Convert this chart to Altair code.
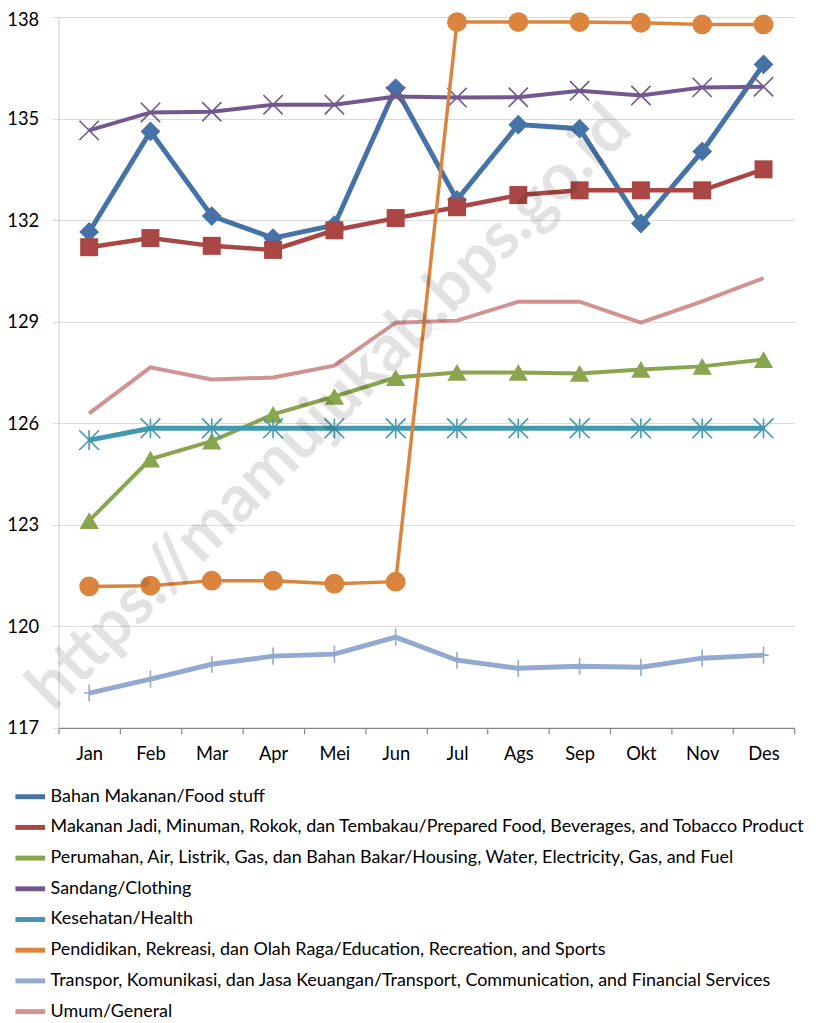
import altair as alt
import pandas as pd

months = ["Jan", "Feb", "Mar", "Apr", "Mei", "Jun", "Jul", "Ags", "Sep", "Okt", "Nov", "Des"]

series_names = [
    "Bahan Makanan/Food stuff",
    "Makanan Jadi, Minuman, Rokok, dan Tembakau/Prepared Food, Beverages, and Tobacco Product",
    "Perumahan, Air, Listrik, Gas, dan Bahan Bakar/Housing, Water, Electricity, Gas, and Fuel",
    "Sandang/Clothing",
    "Kesehatan/Health",
    "Pendidikan, Rekreasi, dan Olah Raga/Education, Recreation, and Sports",
    "Transpor, Komunikasi, dan Jasa Keuangan/Transport, Communication, and Financial Services",
    "Umum/General",
]

food = [131.65, 134.62, 132.12, 131.47, 131.85, 135.90, 132.60, 134.82, 134.70, 131.90, 134.03, 136.60]
prepared = [131.20, 131.47, 131.24, 131.12, 131.70, 132.06, 132.38, 132.74, 132.88, 132.88, 132.88, 133.50]
housing = [123.12, 124.94, 125.47, 126.26, 126.79, 127.35, 127.50, 127.50, 127.47, 127.59, 127.68, 127.88]
clothing = [134.65, 135.18, 135.20, 135.41, 135.41, 135.65, 135.62, 135.63, 135.82, 135.68, 135.92, 135.94]
health = [125.50, 125.85, 125.85, 125.85, 125.85, 125.85, 125.85, 125.85, 125.85, 125.85, 125.85, 125.85]
education = [121.18, 121.20, 121.35, 121.35, 121.26, 121.32, 137.85, 137.85, 137.85, 137.83, 137.78, 137.78]
transport = [118.03, 118.44, 118.88, 119.12, 119.18, 119.68, 119.00, 118.76, 118.82, 118.79, 119.06, 119.15]
general = [126.29, 127.65, 127.29, 127.35, 127.70, 128.97, 129.03, 129.59, 129.59, 128.97, 129.60, 130.29]

y_ticks = [117, 120, 123, 126, 129, 132, 135, 138]
watermark = "https://mamujukab.bps.go.id"

colors = ["#4572A7", "#AA4643", "#89A54E", "#71588F", "#4198AF", "#DB843D", "#93A9CF", "#D19392"]

X_PATH = "M-1,-1L1,1M-1,1L1,-1"
AST_PATH = "M-1,-1L1,1M-1,1L1,-1M0,-1L0,1"
PLUS_PATH = "M-0.6,0L0.6,0M0,-1L0,1"

# style per series: (line width, marker shape, marker size, filled)
styles = [
    (5, "diamond", 400, True),
    (4.5, "square", 330, True),
    (4, "triangle-up", 380, True),
    (4, X_PATH, 380, False),
    (5, AST_PATH, 400, False),
    (3.5, "circle", 400, True),
    (5, PLUS_PATH, 300, False),
    (4, None, 0, True),
]

all_values = [food, prepared, housing, clothing, health, education, transport, general]
rows = []
for name, vals in zip(series_names, all_values):
    for m, v in zip(months, vals):
        rows.append({"series": name, "month": m, "value": v})
df = pd.DataFrame(rows)

x_enc = alt.X("month:N", sort=months,
              scale=alt.Scale(type="band", domain=months, paddingInner=0, paddingOuter=0),
              axis=alt.Axis(title=None, labelAngle=0, labelFontSize=18.5, labelColor="#000000",
                            labelFont="Lato", tickBand="extent", tickSize=6, tickColor="#868686",
                            domainColor="#868686", domainWidth=1.2, tickWidth=1.2, grid=False,
                            labelPadding=11))
y_enc = alt.Y("value:Q",
              scale=alt.Scale(domain=[117, 138], nice=False, zero=False),
              axis=alt.Axis(title=None, values=y_ticks, labelFontSize=18.5, labelColor="#000000",
                            labelFont="Lato", grid=True, gridColor="#D9D9D9", tickColor="#D9D9D9",
                            tickSize=6, domainColor="#C8C8C8", labelPadding=14,
                            labelOffset={"condition": {"test": "datum.value == 138", "value": 3},
                                         "value": 0}))

color_enc = alt.Color("series:N",
                      scale=alt.Scale(domain=series_names, range=colors),
                      legend=alt.Legend(orient="none", legendX=-46, legendY=770, direction="vertical",
                                        title=None, symbolType="stroke", symbolSize=900,
                                        symbolStrokeWidth=5, labelFontSize=18.1, labelFont="Lato",
                                        labelColor="#000000", labelLimit=1000, rowPadding=3,
                                        labelOffset=3, padding=0))

base = alt.Chart(df)
order = [7, 6, 0, 1, 2, 3, 4, 5]
layers = []
for i in order:
    name = series_names[i]
    lw, shape, size, filled = styles[i]
    sub = base.transform_filter(alt.datum.series == name)
    layers.append(sub.mark_line(strokeWidth=lw).encode(x=x_enc, y=y_enc, color=color_enc))
    if shape is not None:
        if filled:
            pt = sub.mark_point(shape=shape, size=size, filled=True, color=colors[i], opacity=1)
        else:
            pt = sub.mark_point(shape=shape, size=size, filled=False, color=colors[i],
                                strokeWidth=1.6, opacity=1)
        layers.append(pt.encode(x=x_enc, y=y_enc))

wm = alt.Chart(pd.DataFrame({"t": [watermark]})).mark_text(
    angle=315, fontSize=66, font="Lato", fontWeight="bold", color="#000000", opacity=0.11,
    align="center", baseline="middle"
).encode(text="t:N", x=alt.value(274), y=alt.value(395))
layers.append(wm)

chart = alt.layer(*layers).properties(
    width=743, height=718,
    autosize=alt.AutoSizeParams(type="none"),
    padding={"left": 51, "top": 4, "right": 18, "bottom": 298},
).configure_view(strokeWidth=0)

chart.save("out.html", embed_options={"renderer": "svg", "actions": False})
